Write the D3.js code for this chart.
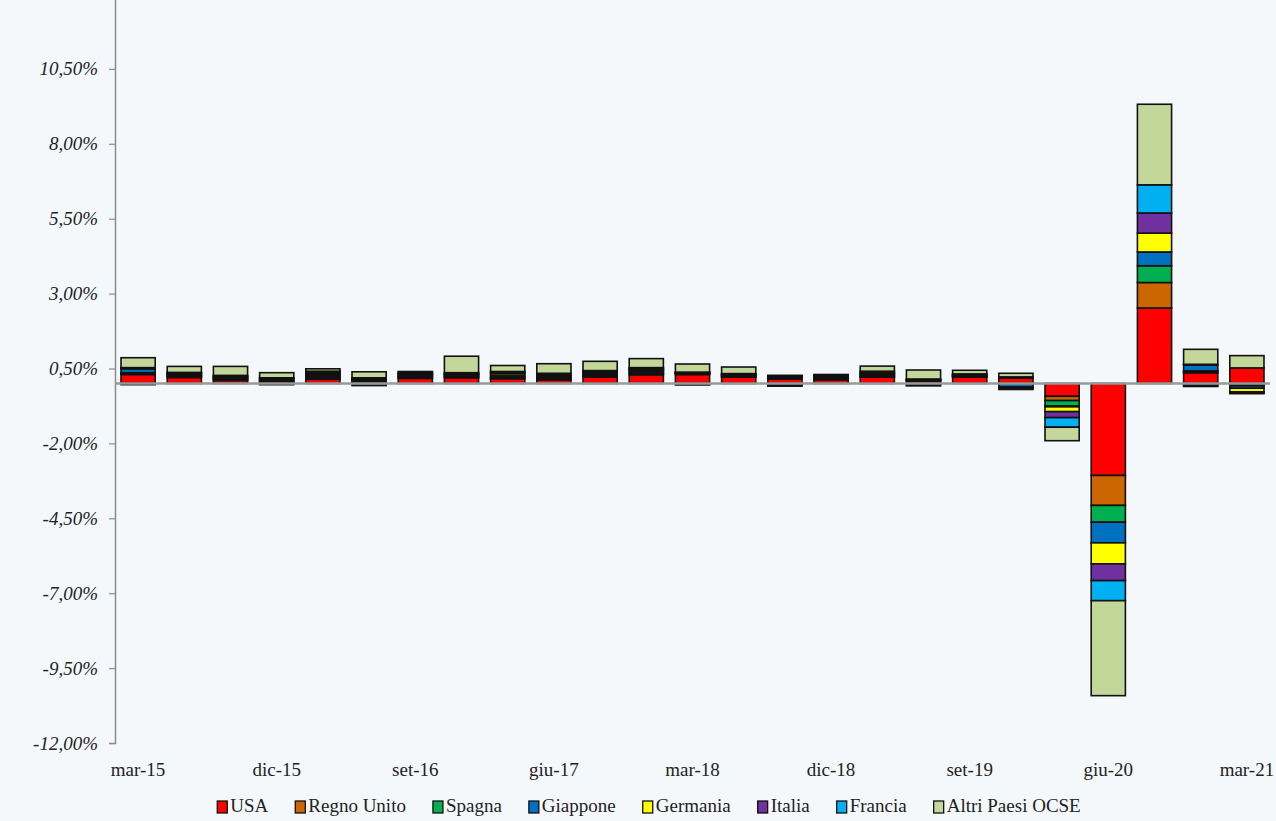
<!DOCTYPE html>
<html>
<head>
    <meta charset="utf-8">
    <title>Contributi OCSE</title>
    <script src="https://cdn.jsdelivr.net/npm/d3@7"></script>
    <style>
        html, body { margin: 0; padding: 0; background: #f5f8fb; }
        svg { display: block; }
    </style>
</head>
<body>
    <svg id="chart" width="1276" height="821"></svg>
<script>
    // trimestri
    const quarters = ["mar-15", "giu-15", "set-15", "dic-15", "mar-16", "giu-16", "set-16", "dic-16",
        "mar-17", "giu-17", "set-17", "dic-17", "mar-18", "giu-18", "set-18", "dic-18",
        "mar-19", "giu-19", "set-19", "dic-19", "mar-20", "giu-20", "set-20", "dic-20", "mar-21"];

    const seriesNames = ["USA", "Regno Unito", "Spagna", "Giappone", "Germania", "Italia", "Francia", "Altri Paesi OCSE"];
    const seriesColors = ["#ff0000", "#cc6600", "#00b050", "#0070c0", "#ffff00", "#7030a0", "#00b0f0", "#c4d79b"];

    // valori in punti percentuali
    const usa = [0.30, 0.20, 0.10, 0.02, 0.14, 0.05, 0.17, 0.19, 0.16, 0.12, 0.22, 0.29, 0.30, 0.21, 0.15, 0.12,
        0.21, 0.08, 0.21, 0.18, -0.43, -3.07, 2.52, 0.36, 0.52];
    const regnoUnito = [0.03, 0.04, 0.03, 0.04, 0.05, 0.03, 0.03, 0.03, 0.03, 0.04, 0.03, 0.04, 0.02, 0.02, 0.03, 0.03,
        0.03, 0.02, 0.02, 0.02, -0.14, -1.00, 0.85, 0.03, -0.04];
    const spagna = [0.03, 0.03, 0.03, 0.03, 0.04, 0.03, 0.03, 0.03, 0.03, 0.03, 0.03, 0.04, 0.02, 0.02, 0.03, 0.03,
        0.03, 0.02, 0.02, 0.02, -0.18, -0.56, 0.56, 0.03, -0.04];
    const giappone = [0.13, 0.03, 0.03, 0.04, 0.05, -0.07, 0.04, 0.03, 0.06, 0.04, 0.03, 0.05, -0.05, 0.02, -0.05, 0.03,
        0.04, -0.05, 0.02, -0.12, -0.03, -0.69, 0.46, 0.20, -0.08];
    const germania = [0.02, 0.03, 0.03, 0.04, 0.05, 0.03, 0.03, 0.03, 0.06, 0.04, 0.05, 0.04, 0.02, 0.02, 0.03, 0.03,
        0.03, -0.03, 0.02, -0.03, -0.16, -0.70, 0.63, 0.02, -0.12];
    const italia = [0.02, 0.02, 0.02, 0.02, 0.03, 0.02, 0.03, 0.02, 0.03, 0.03, 0.03, 0.03, 0.01, 0.02, 0.02, 0.02,
        0.03, 0.01, 0.01, -0.02, -0.20, -0.56, 0.67, -0.05, -0.03];
    const francia = [-0.04, 0.02, 0.03, -0.04, 0.05, 0.03, 0.03, 0.03, 0.03, 0.04, 0.04, 0.04, 0.01, 0.02, -0.04, 0.03,
        0.04, 0.02, 0.02, -0.03, -0.32, -0.67, 0.94, -0.05, -0.03];
    const altri = [0.33, 0.20, 0.30, 0.17, 0.08, 0.20, 0.04, 0.55, 0.20, 0.32, 0.31, 0.30, 0.27, 0.22, 0.01, 0.01,
        0.17, 0.30, 0.12, 0.12, -0.45, -3.17, 2.69, 0.50, 0.41];

    const yTicks = [-12, -9.5, -7, -4.5, -2, 0.5, 3, 5.5, 8, 10.5];
    const xLabelEvery = 3;

    const seriesValues = [usa, regnoUnito, spagna, giappone, germania, italia, francia, altri];
    const table = quarters.map((q, i) => {
        const row = { q: q };
        seriesNames.forEach((s, j) => row[s] = seriesValues[j][i]);
        return row;
    });

    const itLocale = d3.formatLocale({ decimal: ",", thousands: ".", grouping: [3], currency: ["€", ""], minus: "-" });
    const fmt = itLocale.format(".2f");

    const margin = { top: -6, left: 115, right: 6, bottom: 78 };
    const W = 1276, H = 821;
    const svg = d3.select("#chart");

    const x = d3.scaleBand()
        .domain(quarters)
        .range([margin.left, W - margin.right])
        .paddingInner(0.26)
        .paddingOuter(0.13);

    const y = d3.scaleLinear()
        .domain([-12, 13])
        .range([H - margin.bottom, margin.top]);

    const stacked = d3.stack()
        .keys(seriesNames)
        .offset(d3.stackOffsetDiverging)(table);

    // barre
    svg.append("g")
        .selectAll("g")
        .data(stacked)
        .join("g")
        .attr("fill", (d, i) => seriesColors[i])
        .selectAll("rect")
        .data(d => d)
        .join("rect")
        .attr("x", d => x(d.data.q))
        .attr("width", x.bandwidth())
        .attr("y", d => y(d[1]))
        .attr("height", d => y(d[0]) - y(d[1]))
        .attr("stroke", "#111")
        .attr("stroke-width", 1.6);

    // asse y
    const gy = svg.append("g")
        .attr("transform", `translate(${margin.left},0)`)
        .call(d3.axisLeft(y).tickValues(yTicks).tickSize(6).tickPadding(11).tickFormat(d => fmt(d) + "%"));
    gy.select(".domain").attr("stroke", "#8c8c8c").attr("stroke-width", 1.5);
    gy.selectAll(".tick line").attr("stroke", "#8c8c8c").attr("stroke-width", 1.2);
    gy.selectAll(".tick text")
        .attr("fill", "#222")
        .style("font-family", "'Liberation Serif', 'DejaVu Serif', serif")
        .style("font-style", "italic")
        .style("font-size", "19px");

    // linea dello zero
    svg.append("line")
        .attr("x1", margin.left)
        .attr("x2", W - margin.right)
        .attr("y1", y(0))
        .attr("y2", y(0))
        .attr("stroke", "#999")
        .attr("stroke-width", 2.5);

    // etichette asse x
    svg.append("g")
        .selectAll("text")
        .data(quarters.filter((q, i) => i % xLabelEvery === 0))
        .join("text")
        .attr("x", d => x(d) + x.bandwidth() / 2)
        .attr("y", 776)
        .attr("text-anchor", "middle")
        .attr("fill", "#222")
        .style("font-family", "'Liberation Serif', 'DejaVu Serif', serif")
        .style("font-size", "19px")
        .text(d => d);

    // legenda
    const legend = svg.append("g");
    const gap = 27;
    let lx = 0;
    seriesNames.forEach((name, i) => {
        const item = legend.append("g").attr("transform", `translate(${lx},0)`);
        item.append("rect")
            .attr("x", 0).attr("y", -11)
            .attr("width", 10).attr("height", 12)
            .attr("fill", seriesColors[i])
            .attr("stroke", "#111").attr("stroke-width", 1.3);
        const t = item.append("text")
            .attr("x", 13).attr("y", 0)
            .attr("fill", "#222")
            .style("font-family", "'Liberation Serif', 'DejaVu Serif', serif")
            .style("font-size", "19px")
            .text(name);
        lx += 13 + t.node().getComputedTextLength() + gap;
    });
    lx -= gap;
    legend.attr("transform", `translate(${(W - lx) / 2 + 11},812)`);
</script>
</body>
</html>
